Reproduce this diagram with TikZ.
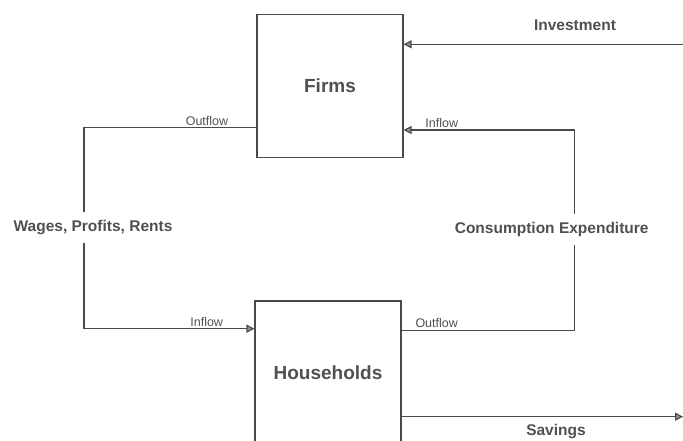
\documentclass[tikz,border=0pt]{standalone}
\usepackage{fontspec}
\setmainfont{Liberation Sans}
\usetikzlibrary{arrows.meta}
\definecolor{ink}{HTML}{4A4A4A}
\definecolor{txt}{HTML}{505050}
\begin{document}
\begin{tikzpicture}[x=1pt,y=-1pt,
  box/.style={draw=ink, line width=1.1pt, minimum width=146pt, minimum height=143pt, inner sep=0pt,
    font=\fontsize{19}{21}\selectfont\bfseries, text=txt},
  link/.style={draw=ink, line width=1.1pt},
  flow/.style={link, -{Triangle[length=8pt,width=8pt,fill=black!45]}},
  big/.style={font=\fontsize{15.5}{18}\selectfont\bfseries, text=txt},
  small/.style={font=\fontsize{12.5}{14}\selectfont, text=txt, inner sep=0pt},
  gaplabel/.style={big, fill=white, inner xsep=1pt, inner ysep=8pt}]
\useasboundingbox (0,0) rectangle (683,441);
\node[box] (firms) at (330,85.7) {Firms};
\node[box, minimum height=144pt] (hh) at (328,373) {Households};
% investment
\coordinate (invR) at (683,44.3);
\draw[flow] (invR) -- (invR -| firms.east);
\node[big] (invL) at (575,25) {Investment};
% consumption loop
\coordinate (ceTop) at (574.3,130);
\coordinate (ceBot) at (574.3,330.7);
\draw[flow] (hh.east |- ceBot) -- (ceBot) -- (ceTop) -- (ceTop -| firms.east);
\node[gaplabel] (ce) at (551.7,229.3) {Consumption Expenditure};
\node[small] (inF) at (441.7,123) {Inflow};
\node[small] (outH) at (436.7,323.3) {Outflow};
% wages loop
\coordinate (wTop) at (84,127.3);
\coordinate (wBot) at (84,328.7);
\draw[flow] (firms.west |- wTop) -- (wTop) -- (wBot) -- (wBot -| hh.west);
\node[gaplabel] (wpr) at (93,227.7) {Wages, Profits, Rents};
\node[small] (outF) at (207,120.7) {Outflow};
\node[small] (inH) at (206.7,321.7) {Inflow};
% savings
\coordinate (savR) at (683,416.7);
\draw[flow] (hh.east |- savR) -- (savR);
\node[big, inner sep=1pt] (sav) at (556,431.5) {Savings};
\end{tikzpicture}
\end{document}
